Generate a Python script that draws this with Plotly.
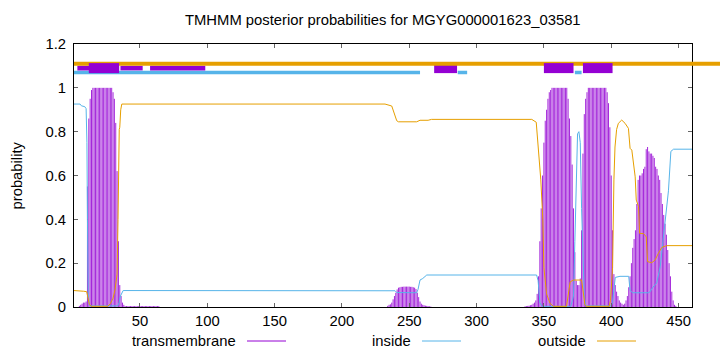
import plotly.graph_objects as go

# ---------------- data ----------------
seq_len = 460
x_ticks = [50, 100, 150, 200, 250, 300, 350, 400, 450]
y_ticks = [0, 0.2, 0.4, 0.6, 0.8, 1.0, 1.2]

# inside probability
inside_x = [1, 5.5, 6.5, 9, 10, 10.6, 11, 11.6, 12.5, 33.5, 34.5, 35.5, 37.5, 235, 239.5, 240.7,
            255.5, 256.5, 258, 260, 263, 344.6, 345.7, 347, 348.6, 370, 372, 373, 374, 375, 376,
            377, 378, 379, 380, 381, 400, 401, 402, 403, 406.5, 413, 414, 416, 427.5, 428.8, 431,
            433.8, 436.4, 438, 440, 442.5, 444.3, 446.3, 460]
inside_y = [0.926, 0.926, 0.918, 0.914, 0.905, 0.75, 0.4, 0.05, 0.005, 0.005, 0.02, 0.05, 0.075,
            0.075, 0.074, 0.066, 0.065, 0.08, 0.123, 0.13, 0.146, 0.146, 0.12, 0.02, 0.003, 0.003,
            0.05, 0.3, 0.6, 0.79, 0.8, 0.75, 0.45, 0.2, 0.05, 0.005, 0.005, 0.02, 0.08, 0.135, 0.14,
            0.14, 0.075, 0.065, 0.065, 0.069, 0.09, 0.11, 0.184, 0.28, 0.38, 0.53, 0.71, 0.72, 0.72]

# outside probability
outside_x = [1, 5.5, 8, 10.4, 11.5, 12.5, 14, 26, 28, 30, 31.5, 33, 33.7, 34.2, 34.6, 35, 35.7,
             36.5, 232, 237, 238.5, 240.7, 242, 255.5, 258, 264, 266.5, 341, 344.3, 346, 347.7,
             349.2, 350, 352, 354.5, 357, 366.8, 369.5, 372, 378, 379.3, 380.5, 381.5, 398.5,
             399.5, 401, 402, 402.8, 404, 405.3, 407.8, 410.3, 412.8, 414, 415.3, 416.6, 417.8,
             418.6, 420.3, 421.1, 424, 426, 427, 430, 432.6, 435, 437.6, 441.2, 460]
outside_y = [0.075, 0.075, 0.072, 0.07, 0.04, 0.01, 0.003, 0.003, 0.015, 0.04, 0.08, 0.15, 0.4,
             0.78, 0.81, 0.82, 0.9, 0.926, 0.926, 0.917, 0.885, 0.85, 0.845, 0.845, 0.852, 0.852,
             0.856, 0.856, 0.843, 0.73, 0.58, 0.40, 0.18, 0.06, 0.017, 0.003, 0.003, 0.115, 0.123,
             0.123, 0.06, 0.01, 0.003, 0.003, 0.03, 0.18, 0.58, 0.73, 0.81, 0.838, 0.853, 0.838,
             0.815, 0.724, 0.716, 0.655, 0.594, 0.488, 0.458, 0.336, 0.335, 0.32, 0.207, 0.202,
             0.214, 0.245, 0.272, 0.28, 0.28]

# transmembrane probability per residue (residues not listed are ~0)
tm_res_a = list(range(5, 65))
tm_prob_a = [0.005, 0.01, 0.015, 0.02, 0.02, 0.025, 0.55, 0.86, 0.95, 0.99,
             1.0, 1.0, 1.0, 1.0, 1.0, 1.0, 1.0, 1.0, 1.0, 1.0, 1.0, 1.0, 1.0, 1.0, 1.0,
             0.98, 0.95, 0.84, 0.62, 0.3, 0.1, 0.05, 0.02, 0.01,
             0.004, 0.004, 0.004, 0.004, 0.004, 0.004, 0.004, 0.004, 0.004, 0.004, 0.004, 0.004,
             0.004, 0.004, 0.004, 0.004, 0.004, 0.004, 0.004, 0.004, 0.004, 0.004, 0.004, 0.004,
             0.004, 0.004]
tm_res_b = list(range(234, 267))
tm_prob_b = [0.005, 0.01, 0.012, 0.02, 0.035, 0.05, 0.065, 0.08, 0.088, 0.09, 0.092, 0.092,
             0.093, 0.093, 0.093, 0.093, 0.093, 0.092, 0.092, 0.09, 0.088, 0.082, 0.065, 0.045,
             0.025, 0.015, 0.01, 0.008, 0.006, 0.005, 0.004, 0.003, 0.002]
tm_res_c = list(range(336, 449))
tm_prob_c = [0.003, 0.004, 0.005, 0.006, 0.008, 0.01, 0.015, 0.02, 0.03, 0.06, 0.14, 0.3, 0.45,
             0.6, 0.75, 0.85, 0.9, 0.95, 0.98, 0.99,
             1.0, 1.0, 1.0, 1.0, 1.0, 1.0, 1.0, 1.0, 1.0, 1.0, 1.0, 1.0,
             0.95, 0.86, 0.78, 0.65, 0.45, 0.25, 0.12, 0.1, 0.1, 0.13, 0.35, 0.7, 0.88, 0.95, 0.98,
             1.0, 1.0, 1.0, 1.0, 1.0, 1.0, 1.0, 1.0, 1.0, 1.0, 1.0, 1.0, 1.0, 1.0,
             0.98, 0.93, 0.82, 0.6, 0.35, 0.15, 0.1, 0.07, 0.05, 0.03, 0.02, 0.015, 0.01, 0.015,
             0.03, 0.05, 0.09, 0.14, 0.2, 0.27, 0.31, 0.35, 0.47, 0.58, 0.6, 0.6, 0.61, 0.63, 0.64,
             0.72, 0.73, 0.71, 0.70, 0.70, 0.69, 0.68, 0.64, 0.63, 0.6, 0.58, 0.52, 0.47, 0.42,
             0.38, 0.33, 0.26, 0.2, 0.14, 0.07, 0.03, 0.01, 0.005]
tm_res = tm_res_a + tm_res_b + tm_res_c
tm_prob = tm_prob_a + tm_prob_b + tm_prob_c

# predicted topology bars at the top (residue ranges)
top_outside = [(1, 490)]
top_inside = [(1, 258), (286, 293), (373, 378)]
top_tm_thin = [(3.5, 34.5), (35.5, 52), (57.5, 98.5)]
top_tm_thick_under = [(268.5, 285.5)]
top_tm_thick_over = [(12, 34.5), (350, 372), (379, 401)]
top_levels = {"outside": 1.11, "tm": 1.09, "inside": 1.07}

# ---------------- styling ----------------
C_TM = "#9400D3"
C_IN = "#56B4E9"
C_OUT = "#E69F00"
FONT = "Liberation Sans, Arial, sans-serif"
FS = 14.8

W, H = 720, 352
ML, MT, MB = 74, 44, 45
PLOT_R = 692
paper_w = W - ML
dom = (PLOT_R - ML) / paper_w

fig = go.Figure()

# impulses for transmembrane
imp_x, imp_y = [], []
for r, p in zip(tm_res, tm_prob):
    imp_x += [r, r, None]
    imp_y += [0, p, None]
fig.add_trace(go.Scatter(x=imp_x, y=imp_y, mode="lines",
                         line=dict(color=C_TM, width=0.85), hoverinfo="skip"))
fig.add_trace(go.Scatter(x=inside_x, y=inside_y, mode="lines",
                         line=dict(color=C_IN, width=1)))
fig.add_trace(go.Scatter(x=outside_x, y=outside_y, mode="lines",
                         line=dict(color=C_OUT, width=1)))


def seg_trace(segs, level, color, width):
    xs, ys = [], []
    for a, b in segs:
        xs += [a, b, None]
        ys += [level, level, None]
    return go.Scatter(x=xs, y=ys, mode="lines", xaxis="x2", yaxis="y",
                      line=dict(color=color, width=width), hoverinfo="skip")


fig.add_trace(seg_trace(top_inside, top_levels["inside"], C_IN, 3.5))
fig.add_trace(seg_trace(top_tm_thin, top_levels["tm"], C_TM, 4.6))
fig.add_trace(seg_trace(top_tm_thick_under, top_levels["tm"], C_TM, 10))
fig.add_trace(seg_trace(top_outside, top_levels["outside"], C_OUT, 4))
fig.add_trace(seg_trace(top_tm_thick_over, top_levels["tm"], C_TM, 10))

axis_common = dict(showgrid=False, zeroline=False, showline=True, linecolor="black",
                   linewidth=1, ticks="inside", ticklen=4, tickcolor="#666",
                   mirror="ticks", tickfont=dict(family=FONT, size=FS, color="black"))

fig.update_layout(
    width=W, height=H,
    margin=dict(l=ML, r=0, t=MT, b=MB, pad=0),
    paper_bgcolor="white", plot_bgcolor="rgba(0,0,0,0)",
    showlegend=False,
    font=dict(family=FONT, size=FS, color="black"),
    xaxis=dict(domain=[0, dom], range=[1, seq_len], tickvals=x_ticks, anchor="y",
               **axis_common),
    xaxis2=dict(domain=[0, 1], range=[1, 1 + (seq_len - 1) / dom], anchor="y",
                visible=False),
    yaxis=dict(range=[0, 1.2], tickvals=y_ticks, anchor="x", domain=[0, 1],
               ticklabelstandoff=4, **axis_common),
)

# title and y-axis label
plot_h = H - MT - MB
fig.add_annotation(text="TMHMM posterior probabilities for MGYG000001623_03581",
                   xref="paper", yref="paper", x=(383 - ML) / paper_w, y=1 + (MT - 20) / plot_h,
                   xanchor="center", yanchor="middle", showarrow=False,
                   font=dict(family=FONT, size=FS))
fig.add_annotation(text="probability", textangle=-90,
                   xref="paper", yref="paper", x=(16 - ML) / paper_w, y=0.5,
                   xanchor="center", yanchor="middle", showarrow=False,
                   font=dict(family=FONT, size=FS))

# key (gnuplot style: label then line sample)
key_y = (H - MB - 341) / plot_h
key_items = [("transmembrane", C_TM, 237.5, 247, 286),
             ("inside", C_IN, 412.5, 422, 461),
             ("outside", C_OUT, 587.5, 597, 636)]
for label, col, tx, l0, l1 in key_items:
    fig.add_annotation(text=label, xref="paper", yref="paper",
                       x=(tx - ML) / paper_w, y=key_y, xanchor="right", yanchor="middle",
                       showarrow=False, font=dict(family=FONT, size=FS))
    fig.add_shape(type="line", xref="paper", yref="paper",
                  x0=(l0 - ML) / paper_w, x1=(l1 - ML) / paper_w, y0=key_y, y1=key_y,
                  line=dict(color=col, width=1))

fig.write_html("out.html")
